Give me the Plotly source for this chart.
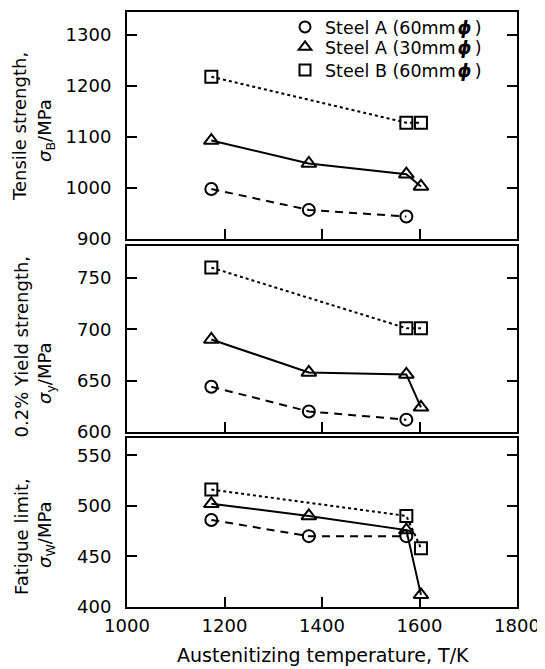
import plotly.graph_objects as go

# ---- data ----
temps_A60 = [1173, 1373, 1573]
temps_A30 = [1173, 1373, 1573, 1603]
temps_B60 = [1173, 1573, 1603]

tensile_A60 = [998, 957, 944]
tensile_A30 = [1093, 1048, 1027, 1003]
tensile_B60 = [1218, 1128, 1128]

yield_A60 = [644, 620, 612]
yield_A30 = [690, 658, 656, 624]
yield_B60 = [760, 701, 701]

fatigue_A60 = [486, 470, 470]
fatigue_A30 = [502, 490, 476, 412]
fatigue_B60 = [516, 490, 458]

PHI = "<b><i>ϕ</i></b>"
series_names = ["Steel A (60mm\u200a" + PHI + "\u2009)",
                "Steel A (30mm\u200a" + PHI + "\u2009)",
                "Steel B (60mm\u200a" + PHI + "\u2009)"]
x_ticks = [1000, 1200, 1400, 1600, 1800]
y_title_line1 = ["Tensile strength,", "0.2% Yield strength,", "Fatigue limit,"]
y_title_line2 = ["<i>σ</i><sub>B</sub>/MPa", "<i>σ</i><sub>y</sub>/MPa", "<i>σ</i><sub>W</sub>/MPa"]
x_title = "Austenitizing temperature, T/K"

FONT = "DejaVu Sans, Liberation Sans, Arial, sans-serif"
symbols = ["circle-open", "triangle-up-open", "square-open"]
dashes = ["8px,6px", "solid", "3px,3px"]
msizes = [12, 13, 12]

fig = go.Figure()

panels = [
    ("y", [tensile_A60, tensile_A30, tensile_B60]),
    ("y2", [yield_A60, yield_A30, yield_B60]),
    ("y3", [fatigue_A60, fatigue_A30, fatigue_B60]),
]
xs_all = [temps_A60, temps_A30, temps_B60]
xaxes = ["x", "x2", "x3"]

for (yref, ys), xref in zip(panels, xaxes):
    for i in range(3):
        fig.add_trace(go.Scatter(
            x=xs_all[i], y=ys[i], xaxis=xref, yaxis=yref,
            mode="lines+markers",
            line=dict(color="black", width=2, dash=dashes[i]),
            marker=dict(symbol=symbols[i], size=msizes[i], color="black",
                        line=dict(color="black", width=2)),
            showlegend=False, cliponaxis=False,
        ))

# legend-only entries (markers only), one legend per row
legend_keys = ["legend", "legend2", "legend3"]
for i in range(3):
    fig.add_trace(go.Scatter(
        x=[None], y=[None], mode="markers", name=series_names[i],
        marker=dict(symbol=symbols[i], size=11, color="black",
                    line=dict(color="black", width=2)),
        showlegend=True, legend=legend_keys[i],
    ))

axis_common = dict(showline=True, linecolor="black", linewidth=2, mirror=True,
                   ticks="inside", ticklen=10, tickwidth=2, tickcolor="black",
                   showgrid=False, zeroline=False,
                   tickfont=dict(family=FONT, size=18, color="black"))

xcommon = dict(axis_common, range=[1000, 1800], tickvals=x_ticks, ticklabelstandoff=1)
ycommon = dict(axis_common, mirror="ticks", ticklabelstandoff=10)

# page-pixel helpers (plot area: x 127..517, y 12..607 in page coordinates)
def px(xp):
    return (xp - 127) / 390.0

def py(yp):
    return (607 - yp) / 595.0

leg_font = dict(family=FONT, size=17.5, color="black")
leg_rows = [27, 47, 70]
legends = {}
for k, r in zip(legend_keys, leg_rows):
    legends[k] = dict(x=px(285), y=py(r), xanchor="left", yanchor="middle",
                      bgcolor="rgba(0,0,0,0)", font=leg_font, itemwidth=30,
                      borderwidth=0)

annotations = []
title_font = dict(family=FONT, size=18, color="black")
line1_pos = [(20, 126), (20.5, 347), (21, 537)]
line2_pos = [(46, 131), (46, 373), (46, 535)]
for i in range(3):
    annotations.append(dict(text=y_title_line1[i], xref="paper", yref="paper",
                            x=px(line1_pos[i][0]), y=py(line1_pos[i][1]),
                            xanchor="center", yanchor="middle", textangle=-90,
                            showarrow=False, font=title_font))
    annotations.append(dict(text=y_title_line2[i], xref="paper", yref="paper",
                            x=px(line2_pos[i][0]), y=py(line2_pos[i][1]),
                            xanchor="center", yanchor="middle", textangle=-90,
                            showarrow=False, font=title_font))
annotations.append(dict(text=x_title, xref="paper", yref="paper",
                        x=px(322.5), y=py(655), xanchor="center", yanchor="middle",
                        showarrow=False, font=dict(family=FONT, size=19, color="black")))

fig.update_layout(
    width=537, height=661,
    margin=dict(l=119, r=28, t=4, b=62, autoexpand=False),
    paper_bgcolor="white", plot_bgcolor="white",
    font=dict(family=FONT, size=18, color="black"),
    showlegend=True,
    **legends,
    annotations=annotations,
    xaxis=dict(xcommon, anchor="y", showticklabels=False),
    xaxis2=dict(xcommon, anchor="y2", showticklabels=False, matches="x"),
    xaxis3=dict(xcommon, anchor="y3", matches="x"),
    yaxis=dict(ycommon, domain=[py(239), 1.0], range=[900, 1345], dtick=100, anchor="x"),
    yaxis2=dict(ycommon, domain=[py(432), py(246)], range=[600, 781], dtick=50, anchor="x2"),
    yaxis3=dict(ycommon, domain=[0.0, py(438)], range=[400, 567], dtick=50, anchor="x3"),
)

fig.write_html("out.html")
